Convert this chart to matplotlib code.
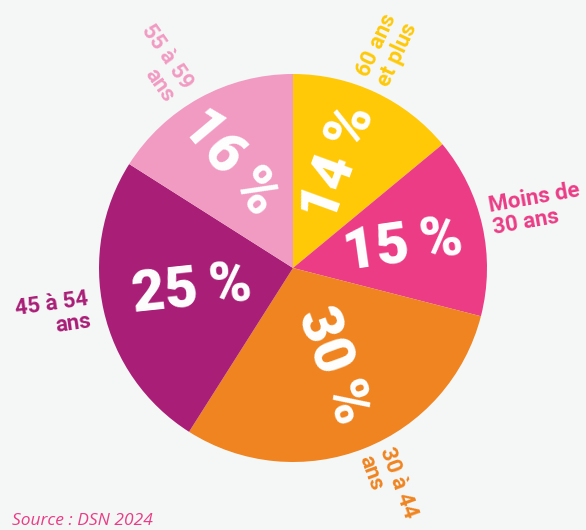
import matplotlib.pyplot as plt

# Répartition par tranche d'âge (Source : DSN 2024)
categories = ["60 ans\net plus", "Moins de\n30 ans", "30 à 44\nans", "45 à 54\nans", "55 à 59\nans"]
shares = [14, 15, 30, 25, 16]
colors = ["#FFC907", "#EB3C85", "#EF8420", "#A91E76", "#F19AC2"]

BG = "#F5F7F7"
W, H = 586, 530

fig = plt.figure(figsize=(W / 100, H / 100), dpi=100, facecolor=BG)
ax = fig.add_axes([0, 0, 1, 1])
ax.set_facecolor(BG)

cx, cy, r = 293, H - 268, 194
ax.pie(shares, colors=colors, startangle=90, counterclock=False,
       center=(cx, cy), radius=r, wedgeprops=dict(linewidth=0))
ax.set_xlim(0, W)
ax.set_ylim(0, H)
ax.set_aspect("equal")
ax.axis("off")

# labels positions in pixel space (x, y from top), rotation
pct_pos = [(339, 163, 70), (403, 247, 8), (333, 366, -70), (192, 291, 6), (230, 163, -50)]
for val, (x, y, rot) in zip(shares, pct_pos):
    ax.text(x, H - y, f"{val}\u2009%", color="white", fontsize=41, fontweight="black",
            family="Roboto", ha="center", va="center", rotation=rot,
            rotation_mode="anchor")

lab_pos = [(387, 50, 65, "center"), (536, 209, 10, "left"), (388, 487, -70, "left"),
           (53, 315, 8, "right"), (158, 63, -55, "right")]
for cat, col, (x, y, rot, al) in zip(categories, colors, lab_pos):
    ax.text(x, H - y, cat, color=col, fontsize=16, fontweight="bold", family="Roboto",
            ha="center", va="center", rotation=rot, rotation_mode="anchor",
            multialignment=al, linespacing=1.05)

fig.text(12 / W, 5 / H, "Source : DSN 2024", color="#EA3D85", fontsize=12.5,
         style="italic", family="Open Sans", ha="left", va="baseline")

fig.savefig("out.png", dpi=100, facecolor=BG)
